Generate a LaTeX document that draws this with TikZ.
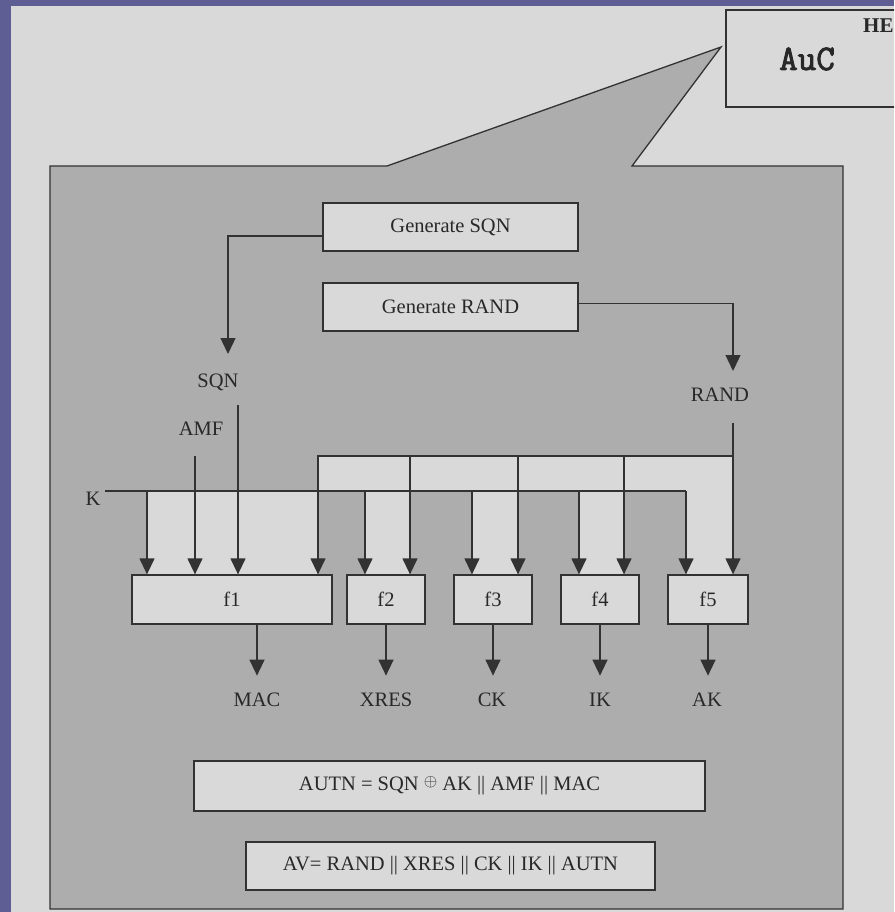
\documentclass[tikz,border=0pt]{standalone}
\usepackage{fontspec}
\setmainfont{Liberation Serif}
\newfontfamily\aucfont[FakeBold=2.5]{Latin Modern Mono}
\usetikzlibrary{arrows.meta}
\definecolor{bgpurple}{RGB}{94,94,148}
\definecolor{panel}{RGB}{217,217,217}
\definecolor{dk}{RGB}{173,173,173}
\definecolor{ln}{RGB}{50,50,50}
\definecolor{txt}{RGB}{40,40,40}
\begin{document}
\begin{tikzpicture}[x=1pt,y=-1pt,
  every node/.style={text=txt, font=\fontsize{20.5}{24}\selectfont},
  fbox/.style={draw=ln, line width=1.3pt, fill=panel, inner sep=0pt, minimum height=48pt},
  lbl/.style={anchor=base, inner sep=0pt},
  wire/.style={draw=ln, line width=1.3pt},
  arr/.style={wire, -{Triangle[length=16pt,width=15pt]}},
]
\clip (0,0) rectangle (894,912);
\fill[bgpurple] (0,0) rectangle (894,912);
\fill[panel] (11,6) rectangle (894,912);
% AuC box
\draw[draw=ln, line width=1.3pt, fill=panel] (726,10) rectangle (905,107);
\node[anchor=base west, inner sep=0pt, font=\aucfont\fontsize{36}{38}\selectfont] (auc) at (779,70) {AuC};
\node[anchor=base west, inner sep=0pt, font=\bfseries\fontsize{21}{23}\selectfont] (he) at (863,33) {HE};
% callout
\filldraw[fill=dk, draw=ln, line width=1.3pt, line join=miter] (50,166) -- (387,166) -- (721,47) -- (632,166) -- (843,166) -- (843,909) -- (50,909) -- cycle;
% light bands
\fill[panel] (318,456) rectangle (733,491);
\fill[panel] (147,491) rectangle (318,575);
\fill[panel] (365,491) rectangle (410,575);
\fill[panel] (472,491) rectangle (518,575);
\fill[panel] (579,491) rectangle (624,575);
\fill[panel] (686,491) rectangle (733,575);
% boxes
\node[fbox, minimum width=255pt] (gsqn) at (450.5,227) {Generate SQN};
\node[fbox, minimum width=255pt] (grand) at (450.5,307) {Generate RAND};
\node[fbox, minimum width=200pt, minimum height=49pt] (f1) at (232,599.5) {f1};
\node[fbox, minimum width=78pt, minimum height=49pt] (f2) at (386,599.5) {f2};
\node[fbox, minimum width=78pt, minimum height=49pt] (f3) at (493,599.5) {f3};
\node[fbox, minimum width=78pt, minimum height=49pt] (f4) at (600,599.5) {f4};
\node[fbox, minimum width=80pt, minimum height=49pt] (f5) at (708,599.5) {f5};
\node[fbox, minimum width=511pt, minimum height=50pt] (autn) at (449.5,786) {AUTN = SQN {\fontsize{17}{17}\selectfont\raisebox{4pt}{$\oplus$}} AK || AMF || MAC};
\node[fbox, minimum width=409pt] (av) at (450.5,866) {AV= RAND || XRES || CK || IK || AUTN};
% labels
\node[lbl] (sqn) at (218,387) {SQN};
\node[lbl] (amf) at (201,435) {AMF};
\node[lbl] (k) at (93,505) {K};
\node[lbl] (rand) at (720,401) {RAND};
\node[lbl] (mac) at (257,706) {MAC};
\node[lbl] (xres) at (386,706) {XRES};
\node[lbl] (ck) at (492,706) {CK};
\node[lbl] (ik) at (600,706) {IK};
\node[lbl] (ak) at (707,706) {AK};
% coordinates
\coordinate (sqnTip) at (228,354);
\coordinate (randTip) at (733,371);
\coordinate (sqntop) at (238,405);
\coordinate (amftop) at (195,456);
\coordinate (kstart) at (105,491);
\coordinate (kend) at (686,491);
\coordinate (k1) at (147,491);
\coordinate (k2) at (365,491);
\coordinate (k3) at (472,491);
\coordinate (k4) at (579,491);
\coordinate (rtop) at (733,423);
\coordinate (rbus) at (733,456);
\coordinate (rbusl) at (318,456);
\coordinate (r2) at (410,456);
\coordinate (r3) at (518,456);
\coordinate (r4) at (624,456);
% connectors
\draw[arr] ([yshift=-9pt]gsqn.west) -| (sqnTip);
\draw[arr] ([yshift=3.5pt]grand.east) -| (randTip);
\draw[arr] (sqntop) -- (sqntop |- f1.north);
\draw[arr] (amftop) -- (amftop |- f1.north);
\draw[wire] (kstart) -- (kend);
\draw[arr] (kend) -- (kend |- f5.north);
\draw[arr] (k1) -- (k1 |- f1.north);
\draw[arr] (k2) -- (k2 |- f2.north);
\draw[arr] (k3) -- (k3 |- f3.north);
\draw[arr] (k4) -- (k4 |- f4.north);
\draw[arr] (rtop) -- (rtop |- f5.north);
\draw[arr] (rbus) -- (rbusl) -- (rbusl |- f1.north);
\draw[arr] (r2) -- (r2 |- f2.north);
\draw[arr] (r3) -- (r3 |- f3.north);
\draw[arr] (r4) -- (r4 |- f4.north);
\draw[arr] ([xshift=25pt]f1.south) -- ++(0,51);
\draw[arr] (f2.south) -- ++(0,51);
\draw[arr] (f3.south) -- ++(0,51);
\draw[arr] (f4.south) -- ++(0,51);
\draw[arr] (f5.south) -- ++(0,51);
\end{tikzpicture}
\end{document}
